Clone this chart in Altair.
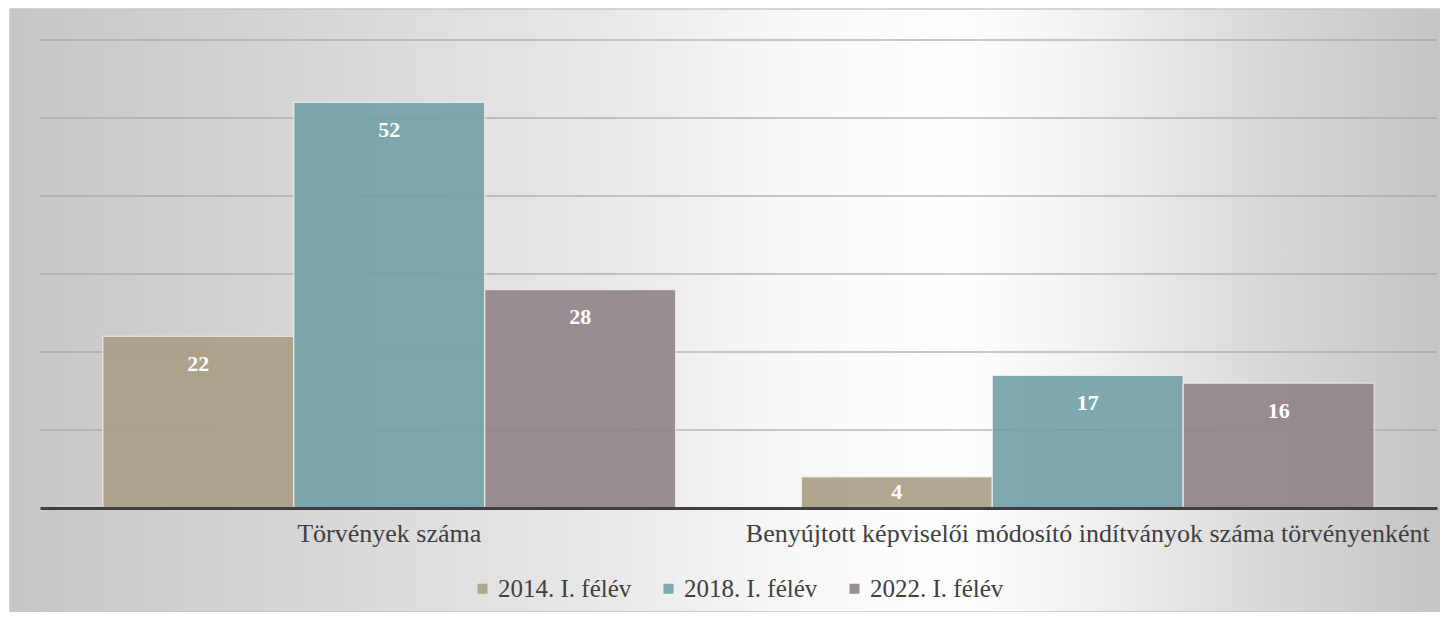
import altair as alt
import pandas as pd

categories = ["Törvények száma",
              "Benyújtott képviselői módosító indítványok száma törvényenként"]
series = ["2014. I. félév", "2018. I. félév", "2022. I. félév"]
values_2014 = [22, 4]
values_2018 = [52, 17]
values_2022 = [28, 16]
grid_values = [10, 20, 30, 40, 50, 60]
colors = ["#ab9e86", "#72a0a7", "#8e8389"]

rows = []
for s, vals in zip(series, [values_2014, values_2018, values_2022]):
    for c, v in zip(categories, vals):
        rows.append({"category": c, "series": s, "value": v})
df = pd.DataFrame(rows)
grid_df = pd.DataFrame({"g": grid_values})

W, H = 1397, 468
FONT = "'Liberation Serif', 'Times New Roman', serif"
TXT = "#404040"

yscale = alt.Scale(domain=[0, 60], nice=False, zero=True)
xenc = alt.X("category:N", sort=categories,
             scale=alt.Scale(paddingInner=0.18, paddingOuter=0.09),
             axis=alt.Axis(title=None, labelAngle=0, labelFont=FONT, labelFontSize=26,
                           labelColor=TXT, labelPadding=12, labelLimit=0,
                           labelOverlap=False, labelBound=False, ticks=False, grid=False,
                           domainColor="#404040", domainWidth=3, zindex=2))
xoff = alt.XOffset("series:N", sort=series, scale=alt.Scale(paddingInner=0, paddingOuter=0))

bg = alt.Chart(pd.DataFrame({"a": [0]})).mark_rect(
    fill=alt.Gradient(
        gradient="linear", x1=0, y1=0.5, x2=1, y2=0.5,
        stops=[
            alt.GradientStop(color="#c6c6c6", offset=0),
            alt.GradientStop(color="#d6d6d6", offset=0.2),
            alt.GradientStop(color="#e8e8e8", offset=0.41),
            alt.GradientStop(color="#f8f8f8", offset=0.55),
            alt.GradientStop(color="#ffffff", offset=0.66),
            alt.GradientStop(color="#f0f0f0", offset=0.76),
            alt.GradientStop(color="#dadada", offset=0.87),
            alt.GradientStop(color="#c4c4c4", offset=1),
        ]),
    stroke="#c8c8c8", strokeWidth=1.5,
).encode(x=alt.value(-30), x2=alt.value(W + 3), y=alt.value(-31), y2=alt.value(H + 104))

grid = alt.Chart(grid_df).mark_rule(color="#a0a0a0", strokeWidth=1.4, opacity=0.75).encode(
    y=alt.Y("g:Q", scale=yscale, axis=None))

bars = alt.Chart(df).mark_bar(opacity=0.9, stroke="#f2f2f2", strokeWidth=1.3,
                              strokeOpacity=0.8).encode(
    x=xenc,
    xOffset=xoff,
    y=alt.Y("value:Q", scale=yscale, axis=None),
    color=alt.Color("series:N", sort=series,
                    scale=alt.Scale(domain=series, range=colors),
                    legend=alt.Legend(title=None, orient="none", direction="horizontal",
                                      legendX=430, legendY=536, symbolType="square",
                                      symbolSize=100, symbolStrokeWidth=0,
                                      labelFont=FONT, labelFontSize=25, labelColor=TXT,
                                      labelOffset=3, columnPadding=24, padding=0)),
)

labels = alt.Chart(df).transform_calculate(
    ly="max(datum.value - 3.5, datum.value / 2)"
).mark_text(font=FONT, fontSize=22, fontWeight="bold", color="white",
            baseline="middle").encode(
    x=xenc,
    xOffset=xoff,
    y=alt.Y("ly:Q", scale=yscale, axis=None),
    text="value:Q",
)

chart = alt.layer(bg, grid, bars, labels).properties(
    width=W, height=H, autosize="none",
    padding={"left": 32, "top": 32, "right": 3, "bottom": 104},
).configure_view(stroke=None)

chart.save("out.html", embed_options={"renderer": "svg", "actions": False})
